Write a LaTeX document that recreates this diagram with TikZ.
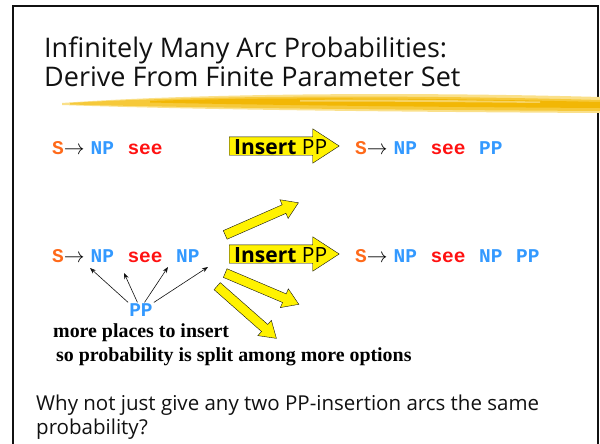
\documentclass[tikz,border=0pt]{standalone}
\usepackage{fontspec}
\setmainfont{Liberation Serif}
\setsansfont{Open Sans}
\setmonofont{Liberation Mono}
\usetikzlibrary{arrows.meta,positioning,shapes.arrows}
\definecolor{ink}{HTML}{111111}
\definecolor{sorange}{HTML}{FF6A1A}
\definecolor{npblue}{HTML}{3399FF}
\definecolor{seered}{HTML}{FF1111}
\definecolor{brushdark}{HTML}{F2B705}
\definecolor{brushmid}{HTML}{F6C93A}
\definecolor{brushlight}{HTML}{FAE08A}
\newcommand{\gap}{\hspace{13.5pt}}
\newcommand{\rto}{$\rightarrow$\hspace{6pt}}

\begin{document}
\begin{tikzpicture}[
  x=1pt,y=-1pt,
  title/.style={font=\sffamily\fontsize{27}{28}\selectfont,anchor=base west,inner sep=0pt,text=ink},
  rulebox/.style={font=\ttfamily\bfseries\fontsize{19.5}{20}\selectfont,anchor=base west,inner sep=0pt},
  note/.style={font=\rmfamily\bfseries\fontsize{19.9}{22}\selectfont,anchor=base west,inner sep=0pt},
  body/.style={font=\sffamily\fontsize{20.5}{22}\selectfont,anchor=base west,inner sep=0pt,text=ink},
  bigarrow/.style={single arrow,draw=ink,fill=yellow,inner sep=0pt,text height=9pt,text depth=9pt,
    single arrow head extend=8pt,single arrow tip angle=66,minimum height=110pt,anchor=tail},
  smallarrow/.style={single arrow,draw=ink,fill=yellow,inner sep=0pt,text height=4.5pt,text depth=4.5pt,
    single arrow head extend=5.5pt,single arrow tip angle=66,minimum height=80pt,anchor=tail},
  insert/.style={font=\sffamily\fontsize{21}{22}\selectfont,anchor=base west,inner sep=0pt},
  pointer/.style={-{Stealth[length=6pt,width=4.5pt]},line width=0.6pt,draw=ink}
]
\useasboundingbox (0,0) rectangle (600,444);

% slide frame and title
\draw[ink,line width=2.5pt] (13,444) -- (13,6) -- (598,6) -- (598,444);
\node[title] (t1) at (44,58) {Infinitely Many Arc Probabilities:};
\node[title] (t2) at (44,87) {Derive From Finite Parameter Set};

% brush stroke under the title
\fill[brushlight] (62,103) .. controls (200,93) and (420,92) .. (600,97) -- (600,113) .. controls (420,112) and (200,110) .. (62,105) -- cycle;
\fill[brushmid] (70,103) .. controls (200,95) and (420,95) .. (600,100) -- (600,111) .. controls (420,110) and (200,108) .. (70,104.5) -- cycle;
\fill[brushdark] (150,101) .. controls (260,97) and (430,98) .. (600,102) -- (600,108) .. controls (430,107) and (260,105) .. (150,102.5) -- cycle;
\fill[brushlight,opacity=0.7] (300,100) .. controls (380,99) and (450,100) .. (540,101.5) -- (540,103) .. controls (450,102) and (380,101.5) .. (300,101.5) -- cycle;

% one NP: insert PP
\node[rulebox] (r1) at (52,154) {\textcolor{sorange}{S}\rto\textcolor{npblue}{NP}\gap\textcolor{seered}{see}};
\node[bigarrow] (a1) at (229,146) {};
\node[insert] (i1) at (234,154) {\textbf{Insert} PP};
\node[rulebox] (r1b) at (355,154) {\textcolor{sorange}{S}\rto\textcolor{npblue}{NP}\gap\textcolor{seered}{see}\gap\textcolor{npblue}{PP}};

% two NPs: more places to insert
\node[rulebox] (r2) at (52,262) {\textcolor{sorange}{S}\rto\textcolor{npblue}{NP}\gap\textcolor{seered}{see}\gap\textcolor{npblue}{NP}};
\node[bigarrow] (a2) at (229,254) {};
\node[insert] (i2) at (234,262) {\textbf{Insert} PP};
\node[rulebox] (r2b) at (355,262) {\textcolor{sorange}{S}\rto\textcolor{npblue}{NP}\gap\textcolor{seered}{see}\gap\textcolor{npblue}{NP}\gap\textcolor{npblue}{PP}};
\node[smallarrow,rotate=23.7] (up) at (225,235) {};
\node[smallarrow,rotate=-23] (dn) at (225,273) {};
\node[smallarrow,rotate=-41.4,minimum height=79pt] (dnfar) at (217,286) {};

% PP and its slots
\node[rulebox,anchor=center,text=npblue,inner sep=1pt] (pp) at (141,310) {PP};
\coordinate (g1) at (90,268);
\coordinate (g2) at (124,273);
\coordinate (g3) at (168,267);
\coordinate (g4) at (208,267);
\draw[pointer] (pp.north west) -- (g1);
\draw[pointer] (pp.115) -- (g2);
\draw[pointer] (pp.65) -- (g3);
\draw[pointer] (pp.north east) -- (g4);
\node[note] (n1) at (53,337) {more places to insert};
\node[note] (n2) at (56,361) {so probability is split among more options};

% question
\node[body] (q1) at (36,410) {Why not just give any two PP-insertion arcs the same};
\node[body] (q2) at (36,434) {probability?};
\end{tikzpicture}
\end{document}
